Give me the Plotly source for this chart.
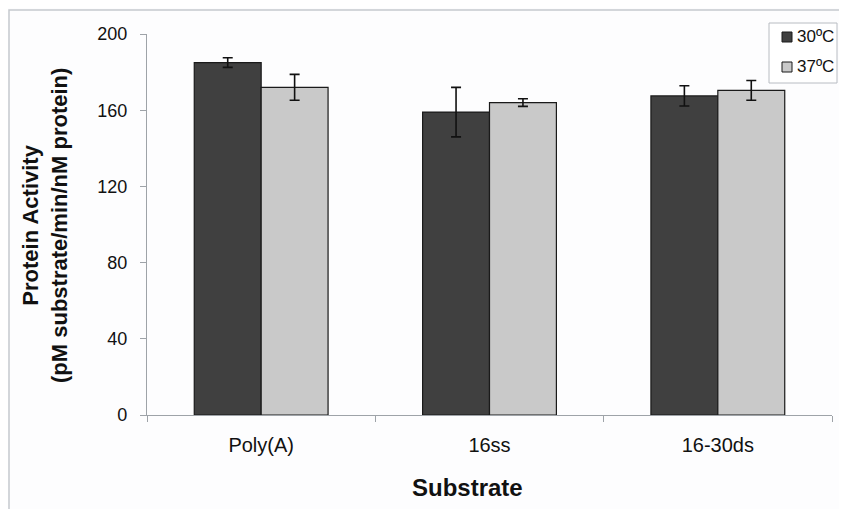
import plotly.graph_objects as go

categories = ["Poly(A)", "16ss", "16-30ds"]
series_names = ["30ºC", "37ºC"]
values_30 = [185, 159, 167.5]
errors_30 = [2.5, 13, 5.3]
values_37 = [172, 164, 170.4]
errors_37 = [6.8, 2, 5.2]
y_ticks = [0, 40, 80, 120, 160, 200]

colors = ["#404040", "#c9c9c9"]
FONT = "Liberation Sans, Arial, sans-serif"

fig = go.Figure()
for name, vals, errs, col in [(series_names[0], values_30, errors_30, colors[0]),
                              (series_names[1], values_37, errors_37, colors[1])]:
    fig.add_trace(go.Bar(
        x=categories, y=vals, name=name,
        marker=dict(color=col, line=dict(color="#1a1a1a", width=1.2)),
        error_y=dict(type="data", array=errs, visible=True, color="#111111",
                     thickness=1.6, width=5),
        showlegend=False,
    ))

# The page body has an 8px margin, so the figure starts at page (8, 8).
OFF = 8
PL, PR, PT, PB = 147, 832, 34, 415   # plot area in page pixels
W, H = 847 - OFF, 509 - OFF
pw, ph = PR - PL, PB - PT

def px(xp):
    return (xp - PL) / pw

def py(yp):
    return (PB - yp) / ph

shapes = [
    # outer chart frame
    dict(type="rect", xref="paper", yref="paper", x0=px(9), x1=px(860), y0=py(530), y1=py(10),
         line=dict(color="#c5c9ce", width=1.5), fillcolor="rgba(0,0,0,0)", layer="below"),
    # legend box
    dict(type="rect", xref="paper", yref="paper", x0=px(769), x1=px(837), y0=py(83), y1=py(23),
         line=dict(color="#b8bcc2", width=1), fillcolor="white"),
]
annotations = []
leg_y = [37, 67]
for i, name in enumerate(series_names):
    yc = leg_y[i]
    shapes.append(dict(type="rect", xref="paper", yref="paper",
                       x0=px(782), x1=px(792), y0=py(yc + 5), y1=py(yc - 5),
                       line=dict(color="#1a1a1a", width=1), fillcolor=colors[i]))
    annotations.append(dict(text=name, xref="paper", yref="paper", x=px(795), y=py(yc),
                            xanchor="left", yanchor="middle", showarrow=False,
                            font=dict(family=FONT, size=17, color="#111111")))

annotations.append(dict(text="<b>Protein Activity<br>(pM substrate/min/nM protein)</b>",
                        xref="paper", yref="paper", x=px(45), y=py(226), textangle=-90,
                        xanchor="center", yanchor="middle", showarrow=False,
                        font=dict(family=FONT, size=22, color="#111111")))
annotations.append(dict(text="<b>Substrate</b>", xref="paper", yref="paper",
                        x=px(467), y=py(487), xanchor="center", yanchor="middle",
                        showarrow=False, font=dict(family=FONT, size=24, color="#111111")))

fig.update_layout(
    width=W, height=H,
    margin=dict(l=PL - OFF, r=847 - PR, t=PT - OFF, b=509 - PB, pad=0),
    paper_bgcolor="#fdfdfe", plot_bgcolor="#fdfdfe",
    barmode="group", bargap=0.414, bargroupgap=0,
    font=dict(family=FONT, size=18, color="#111111"),
    shapes=shapes, annotations=annotations,
    xaxis=dict(showline=True, linecolor="#9ea3a8", linewidth=1.2,
               ticks="outside", tickson="boundaries", ticklen=6, tickcolor="#9ea3a8",
               showgrid=False, tickfont=dict(size=20), ticklabelstandoff=12),
    yaxis=dict(range=[0, 200], tickvals=y_ticks, showline=True, linecolor="#9ea3a8",
               linewidth=1.2, ticks="outside", ticklen=6, tickcolor="#9ea3a8",
               showgrid=False, zeroline=False, tickfont=dict(size=18), ticklabelstandoff=9),
)

fig.write_html("out.html")
